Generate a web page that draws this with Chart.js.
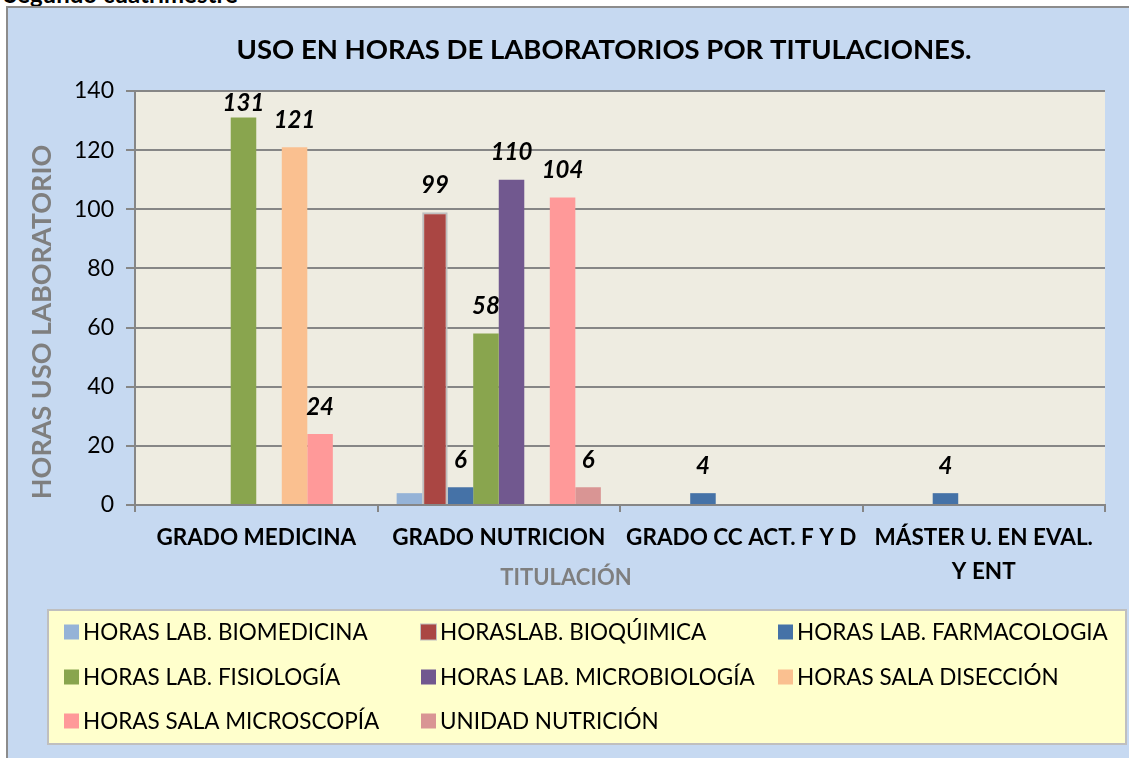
<!DOCTYPE html>
<html>
<head>
<meta charset="utf-8">
<script src="https://cdn.jsdelivr.net/npm/chart.js@4/dist/chart.umd.min.js"></script>
<style>
    body { margin: 0; background: #fff; overflow: hidden; font-family: Lato, "Open Sans", sans-serif; }
    #top-note { position: absolute; left: 4px; top: -21px; font: bold 24px Lato, sans-serif; color: #000; }
    #box { position: absolute; left: 6px; top: 6px; width: 1200px; height: 760px; background: #C6D9F1; border: 2px solid #8C8C8C; }
    #chart-wrap { position: absolute; left: 0; top: 0; width: 1200px; height: 750px; }
</style>
</head>
<body>
<div id="top-note">Segundo cuatrimestre</div>
<div id="box">
    <div id="chart-wrap"><canvas id="labChart"></canvas></div>
</div>
<script>
const titulaciones = ['GRADO MEDICINA', 'GRADO NUTRICION', 'GRADO CC ACT. F Y D', ['MÁSTER U. EN EVAL.', 'Y ENT']];

const seriesNames = [
    'HORAS LAB. BIOMEDICINA',
    'HORASLAB. BIOQÚIMICA',
    'HORAS LAB. FARMACOLOGIA',
    'HORAS LAB. FISIOLOGÍA',
    'HORAS LAB. MICROBIOLOGÍA',
    'HORAS SALA DISECCIÓN',
    'HORAS SALA MICROSCOPÍA',
    'UNIDAD NUTRICIÓN'
];

const biomedicina   = [0, 4, 0, 0];
const bioquimica    = [0, 99, 0, 0];
const farmacologia  = [0, 6, 4, 4];
const fisiologia    = [131, 58, 0, 0];
const microbiologia = [0, 110, 0, 0];
const diseccion     = [121, 0, 0, 0];
const microscopia   = [24, 104, 0, 0];
const unidadNutri   = [0, 6, 0, 0];

const yTicks = [0, 20, 40, 60, 80, 100, 120, 140];

const seriesValues = [biomedicina, bioquimica, farmacologia, fisiologia, microbiologia, diseccion, microscopia, unidadNutri];
const seriesColors = ['#95B3D7', '#AA4643', '#4572A7', '#89A54E', '#71588F', '#FAC090', '#FF9999', '#D99594'];
// biomedicina has no data labels in the original
const showLabels = [false, true, true, true, true, true, true, true];

const datasets = seriesNames.map((name, i) => ({
    label: name,
    data: seriesValues[i],
    backgroundColor: seriesColors[i],
    borderColor: i === 1 ? '#BFBFBF' : seriesColors[i],
    borderWidth: i === 1 ? 2 : 0,
    categoryPercentage: 8 / 9.5,
    barPercentage: 1
}));

// beige plot area
const plotBg = {
    id: 'plotBg',
    beforeDraw(chart) {
        const { ctx, chartArea: a } = chart;
        ctx.save();
        ctx.fillStyle = '#EEECE1';
        ctx.fillRect(a.left, a.top, a.right - a.left, a.bottom - a.top);
        ctx.restore();
    }
};

// value labels, category labels, titles and the legend box
const extras = {
    id: 'extras',
    afterDatasetsDraw(chart) {
        const ctx = chart.ctx;
        const top = chart.chartArea.top;
        ctx.save();
        ctx.fillStyle = '#000';
        ctx.font = 'italic bold 24px Lato, sans-serif';
        ctx.textAlign = 'center';
        ctx.textBaseline = 'middle';
        chart.data.datasets.forEach((ds, i) => {
            if (!showLabels[i]) return;
            chart.getDatasetMeta(i).data.forEach((bar, j) => {
                const v = ds.data[j];
                if (!v) return;
                ctx.fillText(String(v), bar.x, Math.max(bar.y - 27, top + 12));
            });
        });
        ctx.restore();
    },
    afterDraw(chart) {
        const ctx = chart.ctx;
        const xs = chart.scales.x;
        ctx.save();
        ctx.fillStyle = '#000';
        ctx.textAlign = 'center';
        ctx.textBaseline = 'middle';

        // category labels
        ctx.font = 'bold 22.5px Lato, sans-serif';
        chart.data.labels.forEach((lab, i) => {
            const lines = Array.isArray(lab) ? lab : [lab];
            lines.forEach((t, k) => ctx.fillText(t, xs.getPixelForValue(i), 530 + k * 34));
        });

        // chart title
        ctx.font = 'bold 27.5px Lato, sans-serif';
        ctx.fillText('USO EN HORAS DE LABORATORIOS POR TITULACIONES.', 596, 42);

        // axis titles
        ctx.fillStyle = '#7F7F7F';
        ctx.font = 'bold 22px Lato, sans-serif';
        ctx.fillText('TITULACIÓN', 558, 570);
        ctx.save();
        ctx.translate(34, 314);
        ctx.rotate(-Math.PI / 2);
        ctx.font = 'bold 27px Lato, sans-serif';
        ctx.fillText('HORAS USO LABORATORIO', 0, 0);
        ctx.restore();

        // legend box
        const lx = 40, ly = 602, lw = 1078, lh = 134;
        ctx.fillStyle = '#FFFFCC';
        ctx.fillRect(lx, ly, lw, lh);
        ctx.strokeStyle = '#BFBFBF';
        ctx.lineWidth = 2;
        ctx.strokeRect(lx, ly, lw, lh);

        const colX = [56, 413, 770];
        const rowY = [624, 669, 713];
        ctx.font = '22.5px Lato, sans-serif';
        ctx.textAlign = 'left';
        chart.data.datasets.forEach((ds, i) => {
            const x = colX[i % 3], y = rowY[Math.floor(i / 3)];
            if (i === 1) {
                ctx.fillStyle = '#BFBFBF';
                ctx.fillRect(x - 1, y - 8.5, 17, 17);
            }
            ctx.fillStyle = seriesColors[i];
            ctx.fillRect(x, y - 7.5, 15, 15);
            ctx.fillStyle = '#000';
            ctx.fillText(ds.label, x + 19, y + 1);
        });
        ctx.restore();
    }
};

new Chart(document.getElementById('labChart'), {
    type: 'bar',
    data: { labels: titulaciones, datasets: datasets },
    options: {
        responsive: true,
        maintainAspectRatio: false,
        animation: false,
        layout: { padding: { left: 0, right: 103, top: 83, bottom: 213 } },
        plugins: {
            legend: { display: false },
            title: { display: false },
            tooltip: { enabled: false }
        },
        scales: {
            x: {
                offset: true,
                grid: {
                    offset: true,
                    drawOnChartArea: false,
                    drawTicks: true,
                    tickLength: 7,
                    color: '#868686',
                    lineWidth: 2
                },
                border: { color: '#868686', width: 2 },
                ticks: { display: false },
                afterFit(scale) { scale.height = 40; }
            },
            y: {
                min: 0,
                max: 140,
                afterBuildTicks(scale) { scale.ticks = yTicks.map(v => ({ value: v })); },
                grid: {
                    color: '#868686',
                    lineWidth: 2,
                    drawTicks: true,
                    tickLength: 9
                },
                border: { color: '#868686', width: 2 },
                ticks: {
                    color: '#000',
                    font: { family: 'Lato, sans-serif', size: 23 },
                    padding: 12
                },
                afterFit(scale) { scale.width = 127; }
            }
        }
    },
    plugins: [plotBg, extras]
});
</script>
</body>
</html>
